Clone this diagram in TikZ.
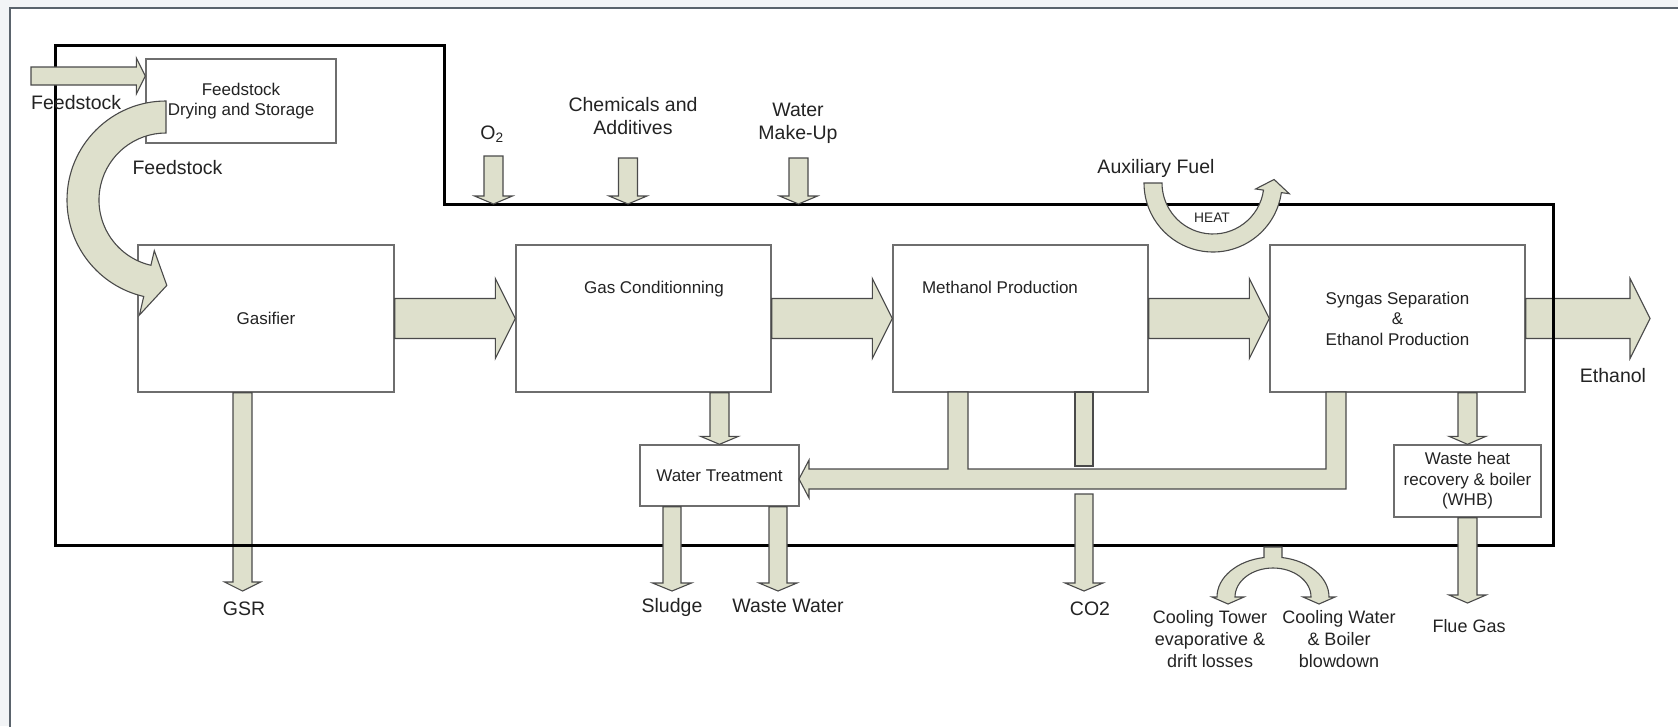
\documentclass[tikz,border=0pt]{standalone}
\usepackage{fontspec}
\setmainfont{Liberation Sans}
\usetikzlibrary{calc}
\definecolor{arrfill}{HTML}{DEE0CC}
\definecolor{arrline}{HTML}{4A4A4A}
\definecolor{boxline}{HTML}{6E6E6E}
\definecolor{txt}{HTML}{232323}
\definecolor{framecol}{HTML}{5A636C}
\definecolor{outbg}{HTML}{F2F4F6}
\tikzset{
 blk/.style={fill=arrfill, draw=arrline, line width=1.1pt, line join=miter},
 procbox/.style={draw=boxline, line width=1.4pt, fill=white, inner sep=0pt, align=center, text=txt, font=\fontsize{17}{20.5}\selectfont},
 intext/.style={text=txt, inner sep=0pt, font=\fontsize{17}{20.5}\selectfont, text height=12.2pt, text depth=0pt},
 lab/.style={text=txt, inner sep=0pt, align=center, font=\fontsize{19.5}{23}\selectfont},
 capl/.style={text height=14pt, text depth=0pt},
 smalllab/.style={text=txt, inner sep=0pt, align=center, font=\fontsize{18}{22}\selectfont},
 caps/.style={text height=12.9pt, text depth=0pt},
 heatlab/.style={text=txt, inner sep=0pt, font=\fontsize{13.8}{16}\selectfont, text height=9.9pt, text depth=0pt},
 bound/.style={draw=black, line width=3pt, line join=miter},
}
% fat block arrow from #1 to #2 (tip): half body, half head, head length
\newcommand{\barrow}[5]{%
  \path ($(#2)!#5!(#1)$) coordinate (ba-base);
  \filldraw[blk] ($(#1)!#3!90:(#2)$) -- ($(ba-base)!#3!90:(#2)$) -- ($(ba-base)!#4!90:(#2)$) -- (#2)
    -- ($(ba-base)!#4!-90:(#2)$) -- ($(ba-base)!#3!-90:(#2)$) -- ($(#1)!#3!-90:(#2)$) -- cycle;}
\begin{document}
\begin{tikzpicture}[x=1pt,y=-1pt]
\useasboundingbox (0,0) rectangle (1678,726);
\clip (0,0) rectangle (1678,726);
% background and outer frame
\fill[outbg] (0,0) rectangle (1678,726);
\fill[white] (10,8) rectangle (1700,750);
\draw[framecol, line width=2.5pt] (10,750) -- (10,8) -- (1700,8);

% process boxes
\node[procbox, minimum width=190pt, minimum height=84pt] (dry) at (241,101) {Feedstock\\Drying and Storage};
\node[procbox, minimum width=256pt, minimum height=147pt] (gasifier) at (266,318.5) {Gasifier};
\node[procbox, minimum width=255pt, minimum height=147pt] (gascond) at (643.5,318.5) {};
\node[procbox, minimum width=255pt, minimum height=147pt] (meth) at (1020.5,318.5) {};
\node[procbox, minimum width=255pt, minimum height=147pt] (syn) at (1397.5,318.5) {Syngas Separation\\\&\\Ethanol Production};
\node[procbox, minimum width=159pt, minimum height=61pt] (wt) at (719.5,475.5) {Water Treatment};
\node[procbox, minimum width=147pt, minimum height=72pt] (whb) at (1467.5,481) {Waste heat\\recovery \& boiler\\(WHB)};
\node[intext] (gctext) at (654,287) {Gas Conditionning};
\node[intext] (mtext) at (1000,287) {Methanol Production};

% coordinates for free ends
\coordinate (ethtip) at (1650,318.5);
\coordinate (gsrtip) at (242.5,591);
\coordinate (gsrtop) at (gasifier.south -| gsrtip);

% arrows below the boundary line
\barrow{syn.east}{ethtip}{20pt}{40pt}{20pt}
\barrow{gsrtop}{gsrtip}{9.5pt}{18pt}{9pt}

% boundary
\draw[bound] (55,45) -- (444,45) -- (444,204) -- (1553,204) -- (1553,545) -- (55,545) -- cycle;

% main flow arrows
\barrow{gasifier.east}{gascond.west}{20pt}{40pt}{20pt}
\barrow{gascond.east}{meth.west}{20pt}{40pt}{20pt}
\barrow{meth.east}{syn.west}{20pt}{40pt}{20pt}

% feedstock input
\coordinate (fsin) at (31,76);
\coordinate (fstip) at (fsin -| dry.west);
\barrow{fsin}{fstip}{9pt}{18pt}{9pt}

% inputs from top
\coordinate (o2a) at (493.5,156); \coordinate (o2b) at (493.5,204);
\coordinate (cha) at (628,158); \coordinate (chb) at (628,204);
\coordinate (wma) at (798.5,158); \coordinate (wmb) at (798.5,204);
\barrow{o2a}{o2b}{9.5pt}{19pt}{8pt}
\barrow{cha}{chb}{9.5pt}{19pt}{8pt}
\barrow{wma}{wmb}{9.5pt}{19pt}{8pt}

% curved feedstock arrow
\coordinate (fc) at (166,200);
\filldraw[blk] ($(fc)+(90:99pt)$) arc[start angle=90, end angle=257, radius=99pt]
  -- ($(fc)+(257:118pt)$) -- ($(fc)+(257:83pt)+(-13:20pt)$) -- ($(fc)+(257:52pt)$)
  -- ($(fc)+(257:67pt)$) arc[start angle=257, end angle=90, radius=67pt] -- cycle;

% heat arrow
\coordinate (hc) at (1213,183);
\filldraw[blk] ($(hc)+(180:69pt)$) arc[start angle=180, end angle=352, radius=69pt]
  -- ($(hc)+(352:77pt)$) -- ($(hc)+(352:60pt)+(82:12pt)$) -- ($(hc)+(352:43pt)$)
  -- ($(hc)+(352:51pt)$) arc[start angle=352, end angle=180, radius=51pt] -- cycle;

% down arrows
\coordinate (gcwt) at (gascond.south -| wt.north);
\barrow{gcwt}{wt.north}{9.5pt}{19pt}{8pt}
\coordinate (sltip) at (672,591); \coordinate (sltop) at (wt.south -| sltip);
\barrow{sltop}{sltip}{9pt}{19.5pt}{8pt}
\coordinate (wwtip) at (778,591); \coordinate (wwtop) at (wt.south -| wwtip);
\barrow{wwtop}{wwtip}{9pt}{19pt}{8pt}
\coordinate (co2top) at (1084,494); \coordinate (co2tip) at (1084,591);
\barrow{co2top}{co2tip}{9pt}{19pt}{8pt}
\coordinate (swtop) at (syn.south -| whb.north);
\barrow{swtop}{whb.north}{9.5pt}{18.5pt}{8pt}
\coordinate (fluetip) at (1467.5,603);
\barrow{whb.south}{fluetip}{9.5pt}{18.5pt}{8pt}

% methanol short bar
\filldraw[blk] (1075,392) rectangle (1093,466);

% collector arrow to water treatment
\coordinate (wtin) at (799,479);
\filldraw[blk] (1326,392) -- (1326,469) -- (968,469) -- (968,392) -- (948,392) -- (948,469)
  -- (809,469) -- (809,460) -- (wtin) -- (809,498) -- (809,489) -- (1346,489) -- (1346,392) -- cycle;

% cooling split arrow
\coordinate (ec) at (1273,597);
\filldraw[blk] (1264,547) -- ($(ec)+(99.25:56pt and 40pt)$)
  arc[start angle=99.25, end angle=180, x radius=56pt, y radius=40pt]
  -- (1212,597) -- (1228,604) -- (1244,597) -- (1235,597)
  arc[start angle=180, end angle=0, x radius=38pt, y radius=29pt]
  -- (1303,597) -- (1319,604) -- (1335,597) -- (1329,597)
  arc[start angle=0, end angle=80.75, x radius=56pt, y radius=40pt]
  -- (1282,547) -- cycle;

% labels
\node[lab, capl, anchor=west] (fslab) at (31,102.5) {Feedstock};
\node[lab, capl] (fslab2) at (177.5,167) {Feedstock};
\node[lab, capl] (o2) at (492,132) {O\textsubscript{2}};
\node[lab] (chem) at (633,116.5) {Chemicals and\\Additives};
\node[lab] (water) at (798,123) {Water\\Make-Up};
\node[lab, capl] (aux) at (1156,166) {Auxiliary Fuel};
\node[heatlab] (heat) at (1212,218) {HEAT};
\node[lab, capl] (gsr) at (244,608) {GSR};
\node[lab, capl] (sludge) at (672,605) {Sludge};
\node[lab, capl] (ww) at (788,605) {Waste Water};
\node[lab, capl] (co2) at (1090,608) {CO2};
\node[smalllab] (ct) at (1210,639) {Cooling Tower\\evaporative \&\\drift losses};
\node[smalllab] (cw) at (1339,639) {Cooling Water\\\& Boiler\\blowdown};
\node[smalllab, caps] (flue) at (1469,626) {Flue Gas};
\node[lab, capl] (eth) at (1613,375) {Ethanol};
\end{tikzpicture}
\end{document}
